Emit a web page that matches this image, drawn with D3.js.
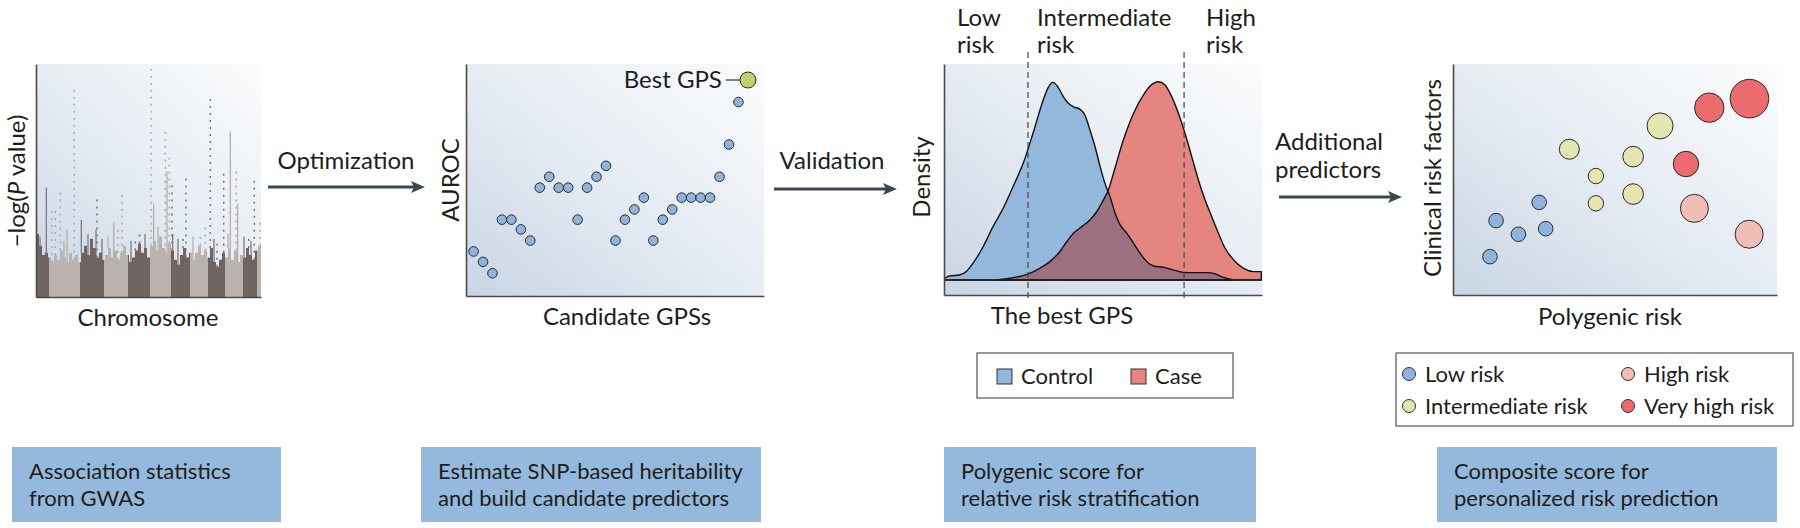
<!DOCTYPE html>
<html lang="en">
<head>
<meta charset="utf-8">
<title>Polygenic scores | d3.js</title>
<style>
body { margin: 0; padding: 0; background: white; }
svg { display: block; font-family: 'Lato', 'Open Sans', sans-serif; }
.lbl { font-size: 24px; fill: #1d1d1b; }
.small { font-size: 22px; fill: #1d1d1b; }
.axis path { stroke: #4a4a4a; stroke-width: 1.6px; }
</style>
</head>
<body>
<div id="chart"></div>
<script src="https://d3js.org/d3.v7.min.js"></script>
<script>

// ---- data ----
const chromLengths = [13, 31, 24, 24, 22, 21, 19, 18, 17, 18, 14, 4];
// top of the dense "skyline" every 3 genome units
const gwasSkyline = [27, 22, 18, 19, 17, 15, 18, 16, 20, 17, 15, 19, 16, 18, 15,
	19, 22, 18, 25, 21, 17, 19, 16, 18, 21, 17, 20, 16, 19, 22, 18, 15, 17, 20, 23,
	19, 21, 17, 22, 24, 20, 26, 21, 19, 23, 20, 16, 14, 18, 21, 17, 19, 16, 19, 22,
	18, 20, 17, 21, 15, 13, 16, 19, 17, 21, 16, 20, 15, 18, 17, 21, 18, 16, 20, 22];
// [genome position, top, kind]
const gwasPeaks = [
	[10.3, 47, "line"], [16, 38, "dash"], [19.3, 37, "dash"], [24.3, 47, "dash"],
	[31, 29, "line"], [38.3, 90, "dash"], [45.3, 33, "line"], [60, 29, "line"],
	[61, 43, "dash"], [77.7, 32, "line"], [81.7, 29, "dash"], [86, 46, "dash"],
	[99.3, 26, "dash"], [103.7, 27, "dash"], [115, 99, "dash"], [117.7, 40, "line"],
	[129.3, 71, "dash"], [131, 54, "line"], [133.3, 62, "dash"], [136, 50, "dash"],
	[136.7, 27, "line"], [147, 26, "dash"], [150, 52, "dash"], [164.3, 27, "dash"],
	[169.3, 30, "dash"], [174.3, 87, "dash"], [181, 24, "dash"], [187.7, 54, "dash"],
	[194.3, 71, "line"], [200.3, 54, "dash"], [201.7, 40, "line"], [212.7, 27, "dash"],
	[218.3, 51, "dash"], [224.3, 32, "dash"],
	[4, 26, "line"], [28, 24, "line"], [52, 27, "line"], [66, 25, "line"],
	[72, 26, "line"], [95, 24, "line"], [109, 27, "line"], [122, 30, "line"],
	[142, 25, "line"], [157, 26, "line"], [178, 25, "line"], [192, 27, "line"],
	[208, 26, "line"], [215, 24, "line"]
];

const candidateAuroc = [19.2, 14.7, 9.8, 32.9, 32.9, 28.7, 23.9, 46.7, 51.4, 46.7,
	46.7, 32.9, 46.7, 51.4, 56.1, 23.9, 32.9, 37.3, 42.4, 23.9, 32.9, 37.3, 42.4,
	42.4, 42.4, 42.4, 51.4, 65.3, 83.6, 93.1];

// [GPS, density]
const controlDensity = [[0.2, 0.8], [1.8, 1.9], [4.9, 2.3], [7, 3.9], [9.1, 7.7],
	[12.3, 15.4], [15.4, 24.7], [18.6, 33.2], [21.7, 43.2], [24.9, 54], [28, 67.9],
	[31.2, 83.3], [32.8, 89.2], [34.3, 91.5], [35.9, 89.2], [37.5, 84.9], [39.1, 81.8],
	[40.7, 80.2], [42.8, 79], [44.3, 76.4], [45.9, 69.4], [47.5, 61.7], [49.1, 52.5],
	[50.6, 44.8], [52.2, 38.6], [53.8, 30.9], [55.4, 25.5], [57.5, 21.6], [59.6, 17],
	[61.7, 12.3], [63.8, 8.5], [65.9, 6.5], [69, 5.9], [72.2, 4.6], [75.3, 3.5],
	[78.5, 3.4], [82.7, 3.4], [85.3, 2.8], [87.9, 1.2], [91.1, 0]];
const caseDensity = [[16.5, 0], [20.7, 0.8], [26.5, 2.8], [30.1, 5.4], [33.3, 8.5],
	[36.4, 13.1], [38.6, 17.7], [40.7, 21.6], [43.3, 24.7], [45.9, 27.8], [48, 31.6],
	[50.1, 37], [51.7, 41.7], [53.3, 49.4], [54.8, 57.1], [56.4, 64.8], [58.5, 73.3],
	[60.6, 80.2], [62.7, 85.6], [64.8, 89.8], [67.4, 91.8], [69.5, 90.3], [71.6, 84.9],
	[73.7, 77.2], [75.8, 67.9], [77.9, 57.1], [80, 46.3], [82.1, 37], [84.2, 29.3],
	[86.3, 21.6], [88.4, 14.7], [91.1, 9.3], [94.2, 5.4], [97.4, 3.9], [99.8, 3.9]];
const riskCuts = [26.4, 75.5];
const riskBandLabels = [["Low", "risk"], ["Intermediate", "risk"], ["High", "risk"]];
const densityGroups = ["Control", "Case"];

const riskGroups = ["Low risk", "High risk", "Intermediate risk", "Very high risk"];
const indivGroup = ["Low risk", "Low risk", "Low risk", "Low risk", "Low risk",
	"Intermediate risk", "Intermediate risk", "Intermediate risk", "Intermediate risk",
	"Intermediate risk", "Intermediate risk", "Very high risk", "Very high risk",
	"Very high risk", "High risk", "High risk"];
const indivPolygenic = [11.4, 13.3, 20.2, 26.6, 28.6, 35.9, 44.1, 44.1, 55.6, 55.6,
	63.9, 79.1, 91.5, 71.9, 74.5, 91.4];
const indivClinical = [16.6, 32.2, 26.3, 40.1, 28.7, 63.1, 51.5, 39.7, 59.9, 43.7,
	73.2, 81.1, 85.0, 56.7, 37.5, 26.3];
const indivWeight = [13.3, 13.3, 13.3, 13.3, 13.3, 25, 14.8, 14.8, 26.5, 26.5,
	42.3, 54, 93, 40.3, 49, 49];

const stepTitles = [["Association statistics", "from GWAS"],
	["Estimate SNP-based heritability", "and build candidate predictors"],
	["Polygenic score for", "relative risk stratification"],
	["Composite score for", "personalized risk prediction"]];
const arrowLabels = [["Optimization"], ["Validation"], ["Additional", "predictors"]];

// ---- layout ----
const width = 1800, height = 528;
const edge = "#2a2a2a";
const groupColor = d3.scaleOrdinal()
	.domain(["Low risk", "Intermediate risk", "High risk", "Very high risk", "Control", "Case"])
	.range(["#8fb3dc", "#e3e5b3", "#f2bdb4", "#ec6b6e", "#94b7dc", "#e48580"]);

const svg = d3.select("#chart").append("svg")
	.attr("width", width)
	.attr("height", height);

const defs = svg.append("defs");
const grad = defs.append("linearGradient")
	.attr("id", "bg")
	.attr("x1", 0).attr("y1", 1).attr("x2", 1).attr("y2", 0);
grad.append("stop").attr("offset", "0%").attr("stop-color", "#c9d5e5");
grad.append("stop").attr("offset", "50%").attr("stop-color", "#e6ecf3");
grad.append("stop").attr("offset", "100%").attr("stop-color", "#fbfcfd");

function panelFrame(x, y) {
	const [x0, x1] = x.range(), [y0, y1] = y.range();
	svg.append("rect")
		.attr("x", x0).attr("y", y1)
		.attr("width", x1 - x0).attr("height", y0 - y1)
		.attr("fill", "url(#bg)");
}

function axes(x, y) {
	svg.append("g").attr("class", "axis")
		.attr("transform", "translate(0," + y.range()[0] + ")")
		.call(d3.axisBottom(x).tickValues([]).tickSizeOuter(0));
	svg.append("g").attr("class", "axis")
		.attr("transform", "translate(" + x.range()[0] + ",0)")
		.call(d3.axisLeft(y).tickValues([]).tickSizeOuter(0));
}

function yTitle(text, bx, cy) {
	return svg.append("text").attr("class", "lbl")
		.attr("text-anchor", "middle")
		.attr("transform", "translate(" + bx + "," + cy + ") rotate(-90)")
		.text(text);
}

function xTitle(text, cx, by) {
	svg.append("text").attr("class", "lbl")
		.attr("text-anchor", "middle")
		.attr("x", cx).attr("y", by)
		.text(text);
}

// ---- panel 1 : Manhattan plot ----
(function() {
	const x = d3.scaleLinear().domain([0, d3.sum(chromLengths)]).range([36, 261]);
	const y = d3.scaleLinear().domain([0, 100]).range([297, 64]);
	panelFrame(x, y);

	const ends = Array.from(d3.cumsum(chromLengths));
	const starts = [0].concat(ends.slice(0, -1));
	const shade = function(i) { return i % 2 ? "#b9b2ae" : "#6f6462"; };
	const spikeShade = function(i) { return i % 2 ? "#b1a9a5" : "#7b716e"; };

	const sky = gwasSkyline.map(function(v, i) { return {pos: i * 3, v: v}; });
	sky.push({pos: d3.sum(chromLengths), v: gwasSkyline[gwasSkyline.length - 1]});

	defs.append("clipPath").attr("id", "skyClip")
		.append("path")
		.attr("d", d3.area()
			.x(function(d) { return x(d.pos); })
			.y0(y(0))
			.y1(function(d) { return y(d.v); })
			.curve(d3.curveStepAfter)(sky));

	svg.append("g").attr("clip-path", "url(#skyClip)")
		.selectAll("rect")
		.data(chromLengths)
		.join("rect")
		.attr("x", function(_, i) { return x(starts[i]); })
		.attr("width", function(d) { return x(d) - x(0); })
		.attr("y", y(100))
		.attr("height", y(0) - y(100))
		.attr("fill", function(_, i) { return shade(i); });

	svg.append("g").selectAll("line")
		.data(gwasPeaks)
		.join("line")
		.attr("x1", function(d) { return x(d[0]); })
		.attr("x2", function(d) { return x(d[0]); })
		.attr("y1", function(d) { return y(gwasSkyline[Math.min(Math.floor(d[0] / 3), gwasSkyline.length - 1)]); })
		.attr("y2", function(d) { return y(d[1]); })
		.attr("stroke", function(d) { return spikeShade(d3.bisectRight(ends, d[0])); })
		.attr("stroke-width", function(d) { return d[2] === "dash" ? 1.5 : 1.2; })
		.attr("stroke-dasharray", function(d) { return d[2] === "dash" ? "2,5" : null; });

	axes(x, y);
	const t = yTitle("", 25, 181);
	t.append("tspan").text("\u2212log(");
	t.append("tspan").style("font-style", "italic").text("P");
	t.append("tspan").text(" value)");
	xTitle("Chromosome", 148, 326);
})();

// ---- panel 2 : candidate GPS AUROC ----
(function() {
	const x = d3.scaleLinear().domain([0.2, 31.7]).range([466, 764]);
	const y = d3.scaleLinear().domain([0, 100]).range([296, 64]);
	panelFrame(x, y);
	axes(x, y);

	const n = candidateAuroc.length;
	svg.append("g").selectAll("circle")
		.data(candidateAuroc)
		.join("circle")
		.attr("cx", function(_, i) { return x(i + 1); })
		.attr("cy", function(d) { return y(d); })
		.attr("r", function(_, i) { return i === n - 1 ? 8 : 4.8; })
		.attr("fill", function(_, i) { return i === n - 1 ? "#c9ce6c" : "#8fb3dc"; })
		.attr("stroke", edge)
		.attr("stroke-width", 1);

	const bx = x(n), by = y(candidateAuroc[n - 1]);
	svg.append("line")
		.attr("x1", bx - 22).attr("x2", bx - 8)
		.attr("y1", by).attr("y2", by)
		.attr("stroke", edge).attr("stroke-width", 1.2);
	svg.append("text").attr("class", "lbl")
		.attr("text-anchor", "end")
		.attr("x", bx - 26).attr("y", by + 8)
		.text("Best GPS");

	yTitle("AUROC", 459, 180);
	xTitle("Candidate GPSs", 627, 325);
})();

// ---- panel 3 : density of best GPS ----
(function() {
	const x = d3.scaleLinear().domain([0, 100]).range([944, 1262]);
	const y = d3.scaleLinear().domain([0, 100]).range([280, 64]);
	const yFrame = d3.scaleLinear().domain([0, 1]).range([295, 64]);
	panelFrame(x, yFrame);

	const area = d3.area()
		.x(function(d) { return x(d[0]); })
		.y0(y(0))
		.y1(function(d) { return y(d[1]); })
		.curve(d3.curveMonotoneX);

	defs.append("clipPath").attr("id", "ctrlClip")
		.append("path").attr("d", area(controlDensity));

	svg.append("path").attr("d", area(controlDensity)).attr("fill", groupColor("Control"));
	svg.append("path").attr("d", area(caseDensity)).attr("fill", groupColor("Case"));
	svg.append("path").attr("d", area(caseDensity))
		.attr("fill", "#9c7080")
		.attr("clip-path", "url(#ctrlClip)");

	[controlDensity, caseDensity].forEach(function(s) {
		svg.append("path").attr("d", area(s))
			.attr("fill", "none")
			.attr("stroke", "#111")
			.attr("stroke-width", 1.4)
			.attr("stroke-linejoin", "round");
	});

	svg.append("line")
		.attr("x1", x(0)).attr("x2", x(100))
		.attr("y1", y(0)).attr("y2", y(0))
		.attr("stroke", "#222").attr("stroke-width", 1.4);

	svg.append("g").selectAll("line")
		.data(riskCuts)
		.join("line")
		.attr("x1", function(d) { return x(d); })
		.attr("x2", function(d) { return x(d); })
		.attr("y1", 52).attr("y2", 298)
		.attr("stroke", "#444")
		.attr("stroke-width", 1.2)
		.attr("stroke-dasharray", "6,4");

	axes(x, yFrame);

	const bandX = [957, 1037, 1206];
	riskBandLabels.forEach(function(lines, i) {
		lines.forEach(function(s, j) {
			svg.append("text").attr("class", "lbl")
				.attr("x", bandX[i]).attr("y", 26 + j * 27)
				.text(s);
		});
	});

	yTitle("Density", 930, 177);
	xTitle("The best GPS", 1062, 324);

	// legend
	const lg = svg.append("g");
	lg.append("rect")
		.attr("x", 977).attr("y", 353).attr("width", 256).attr("height", 45)
		.attr("fill", "white").attr("stroke", "#555").attr("stroke-width", 1.2);
	const lx = [997, 1131];
	densityGroups.forEach(function(g, i) {
		lg.append("rect")
			.attr("x", lx[i]).attr("y", 369).attr("width", 15).attr("height", 15)
			.attr("fill", groupColor(g)).attr("stroke", "#333").attr("stroke-width", 1);
		lg.append("text").attr("class", "small")
			.attr("x", lx[i] + 24).attr("y", 384)
			.text(g);
	});
})();

// ---- panel 4 : composite risk ----
(function() {
	const x = d3.scaleLinear().domain([0, 100]).range([1453, 1777]);
	const y = d3.scaleLinear().domain([0, 100]).range([295, 64]);
	const r = d3.scaleSqrt().domain([0, 100]).range([0, 20]);
	panelFrame(x, y);
	axes(x, y);

	svg.append("g").selectAll("circle")
		.data(indivGroup)
		.join("circle")
		.attr("cx", function(_, i) { return x(indivPolygenic[i]); })
		.attr("cy", function(_, i) { return y(indivClinical[i]); })
		.attr("r", function(_, i) { return r(indivWeight[i]); })
		.attr("fill", function(d) { return groupColor(d); })
		.attr("stroke", edge)
		.attr("stroke-width", 1);

	yTitle("Clinical risk factors", 1441, 178);
	xTitle("Polygenic risk", 1610, 325);

	const lg = svg.append("g");
	lg.append("rect")
		.attr("x", 1396).attr("y", 353).attr("width", 397).attr("height", 73)
		.attr("fill", "white").attr("stroke", "#555").attr("stroke-width", 1.2);
	const colX = [1409, 1628], rowY = [374, 406];
	riskGroups.forEach(function(g, i) {
		const cx = colX[i % 2], cy = rowY[Math.floor(i / 2)];
		lg.append("circle")
			.attr("cx", cx).attr("cy", cy).attr("r", 6.5)
			.attr("fill", groupColor(g)).attr("stroke", "#333").attr("stroke-width", 1);
		lg.append("text").attr("class", "small")
			.attr("x", cx + 16).attr("y", cy + 8)
			.text(g);
	});
})();

// ---- arrows between panels ----
const arrowPos = [
	{x1: 268, x2: 425, y: 187, tx: 346, ty: 169, anchor: "middle"},
	{x1: 774, x2: 897, y: 189, tx: 832, ty: 169, anchor: "middle"},
	{x1: 1279, x2: 1402, y: 197, tx: 1275, ty: 150, anchor: "start"}
];
arrowLabels.forEach(function(lines, i) {
	const a = arrowPos[i];
	svg.append("line")
		.attr("x1", a.x1).attr("x2", a.x2 - 10)
		.attr("y1", a.y).attr("y2", a.y)
		.attr("stroke", "#3a4950").attr("stroke-width", 3.2);
	svg.append("path")
		.attr("d", "M" + a.x2 + "," + a.y + "L" + (a.x2 - 14) + "," + (a.y - 6) +
			"L" + (a.x2 - 11) + "," + a.y + "L" + (a.x2 - 14) + "," + (a.y + 6) + "Z")
		.attr("fill", "#3a4950");
	lines.forEach(function(s, j) {
		svg.append("text").attr("class", "lbl")
			.attr("text-anchor", a.anchor)
			.attr("x", a.tx).attr("y", a.ty + j * 28)
			.text(s);
	});
});

// ---- step boxes ----
const boxPos = [[12, 269], [421, 340], [944, 312], [1437, 340]];
const boxes = svg.append("g").selectAll("g")
	.data(stepTitles)
	.join("g")
	.attr("transform", function(_, i) { return "translate(" + boxPos[i][0] + ",447)"; });
boxes.append("rect")
	.attr("width", function(_, i) { return boxPos[i][1]; })
	.attr("height", 75)
	.attr("fill", "#95b9dd");
boxes.selectAll("text")
	.data(function(d) { return d; })
	.join("text")
	.attr("class", "small")
	.attr("x", 17)
	.attr("y", function(_, j) { return 32 + j * 27; })
	.text(function(d) { return d; });

</script>
</body>
</html>
